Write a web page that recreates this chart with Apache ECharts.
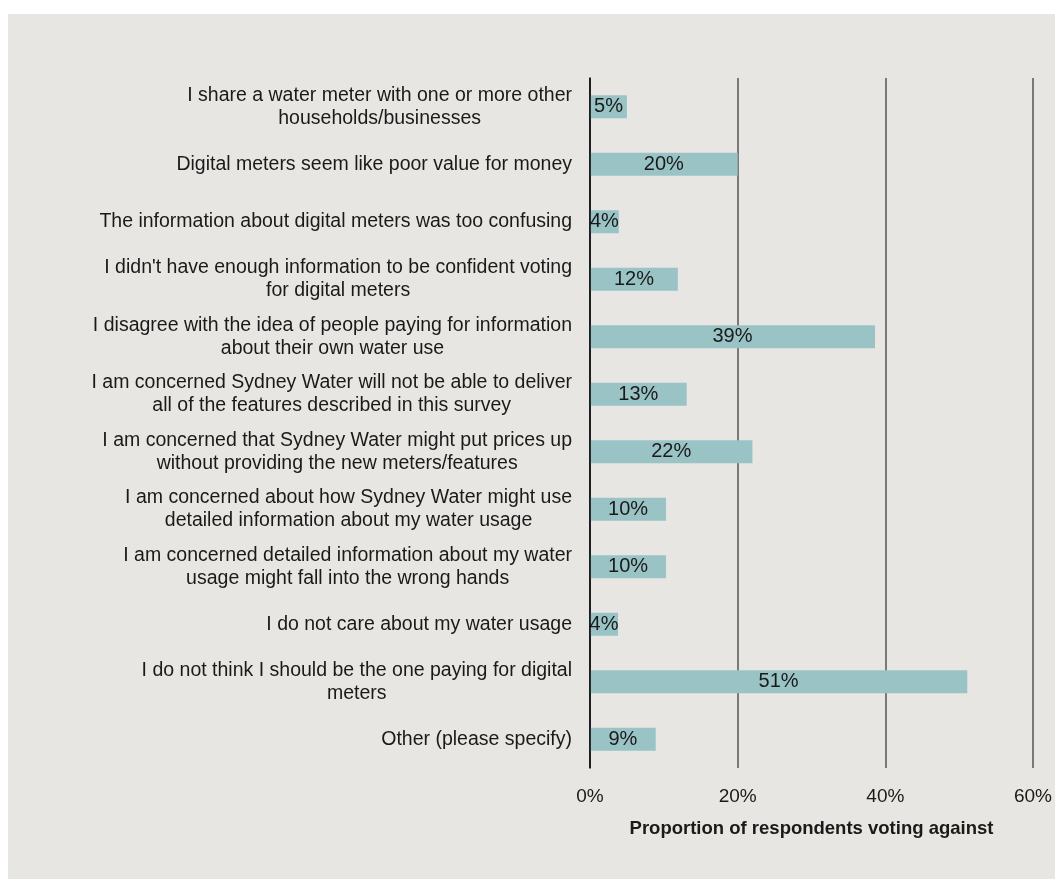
<!DOCTYPE html>
<html>
<head>
<meta charset="utf-8">
<style>
  html, body { margin: 0; padding: 0; background: #ffffff; }
  #chart { width: 1055px; height: 879px; }
</style>
<script src="https://cdn.jsdelivr.net/npm/echarts@6/dist/echarts.min.js"></script>
</head>
<body>
<div id="chart"></div>
<script>
// reasons, top to bottom
const reasons = [
  'I share a water meter with one or more other\nhouseholds/businesses',
  'Digital meters seem like poor value for money',
  'The information about digital meters was too confusing',
  "I didn't have enough information to be confident voting\nfor digital meters",
  'I disagree with the idea of people paying for information\nabout their own water use',
  'I am concerned Sydney Water will not be able to deliver\nall of the features described in this survey',
  'I am concerned that Sydney Water might put prices up\nwithout providing the new meters/features',
  'I am concerned about how Sydney Water might use\ndetailed information about my water usage',
  'I am concerned detailed information about my water\nusage might fall into the wrong hands',
  'I do not care about my water usage',
  'I do not think I should be the one paying for digital\nmeters',
  'Other (please specify)'
]
// proportion voting against (%)
const shares = [5.0, 20.0, 3.9, 11.9, 38.6, 13.1, 22.0, 10.3, 10.3, 3.8, 51.1, 8.9]
const axisTicks = [0, 20, 40, 60]

const fontFamily = '"Liberation Sans", Arial, sans-serif'

const chart = echarts.init(document.getElementById('chart'))

chart.setOption({
  backgroundColor: '#ffffff',
  textStyle: { fontFamily: fontFamily },
  graphic: [{
    type: 'rect',
    z: -10,
    silent: true,
    shape: { x: 8, y: 14, width: 1047, height: 865 },
    style: { fill: '#e8e6e2' }
  }],
  grid: {
    left: 590,
    right: 21,
    top: 78,
    bottom: 111
  },
  xAxis: {
    type: 'value',
    min: axisTicks[0],
    max: axisTicks[axisTicks.length - 1],
    interval: 20,
    axisLine: { show: false },
    axisTick: { show: false },
    splitLine: { lineStyle: { color: '#555555', width: 1.5 } },
    axisLabel: {
      margin: 19,
      fontSize: 19,
      color: '#1a1a1a',
      formatter: v => v + '%'
    },
    name: 'Proportion of respondents voting against',
    nameLocation: 'middle',
    nameGap: 51,
    nameTextStyle: { fontSize: 18.5, fontWeight: 'bold', color: '#1a1a1a' }
  },
  yAxis: {
    type: 'category',
    inverse: true,
    data: reasons,
    axisLine: { show: true, lineStyle: { color: '#000000', width: 1.5 } },
    axisTick: { show: false },
    z: 5,
    axisLabel: {
      margin: 18,
      color: '#1a1a1a',
      formatter: v => v.split('\n').map(s => '{c|' + s + '}').join('\n'),
      rich: {
        c: { align: 'center', fontSize: 19.5, lineHeight: 23, color: '#1a1a1a' }
      }
    }
  },
  series: [{
    type: 'bar',
    data: shares,
    barWidth: 23,
    itemStyle: { color: '#9ac3c5' },
    label: {
      show: true,
      position: 'inside',
      fontSize: 20,
      color: '#1a1a1a',
      formatter: p => Math.round(p.value) + '%'
    }
  }]
})
</script>
</body>
</html>
